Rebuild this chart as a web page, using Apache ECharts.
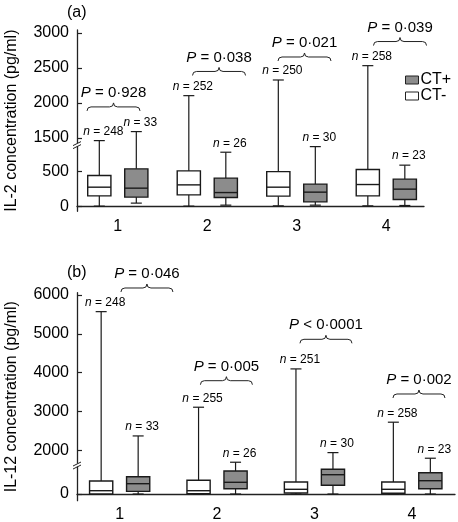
<!DOCTYPE html>
<html><head><meta charset="utf-8">
<script src="https://cdn.jsdelivr.net/npm/echarts@6/dist/echarts.min.js"></script>
<style>html,body{margin:0;padding:0;background:#fff}#c{width:458px;height:522px}</style>
</head><body><div id="c"></div>
<script>
// ---- data (pg/ml): [low whisker, Q1, median, Q3, high whisker] ----
const groups = [1, 2, 3, 4];
const il2CTneg = [[0,147,271,437,1462],[0,161,304,504,2105],[4,143,271,494,2329],[4,147,309,523,2534]];
const il2CTpos = [[43,129,257,533,1591],[14,123,194,400,771],[14,61,200,314,851],[9,94,243,386,586]];
const il12CTneg = [[0,0,85,334,5570],[0,10,85,352,3113],[0,26,121,308,4098],[0,18,121,308,2728]];
const il12CTpos = [[0,69,265,445,2375],[0,136,301,591,1699],[0,224,496,635,1946],[0,136,342,548,1802]];
const il2Nneg = [248, 252, 250, 258];
const il2Npos = [33, 26, 30, 23];
const il12Nneg = [248, 255, 251, 258];
const il12Npos = [33, 26, 30, 23];
const il2P = ['P = 0·928', 'P = 0·038', 'P = 0·021', 'P = 0·039'];
const il12P = ['P = 0·046', 'P = 0·005', 'P < 0·0001', 'P = 0·002'];
const il2BraceX = [0.952, 2.131, 3.086, 4.153];
const il2BraceY = [1944, 2451, 2658, 2879];
const il12BraceX = [1.280, 2.096, 3.118, 4.073];
const il12BraceY = [6178, 3795, 4859, 3453];
const il2Ticks = [0, 500, 1500, 2000, 2500, 3000];
const il12Ticks = [0, 2000, 3000, 4000, 5000, 6000];
const il2Break = [880, 1405];
const il12Break = [745, 1627];

const FONT = "'Liberation Sans', Arial, Helvetica, sans-serif";
function makeT(br) {
  return v => v <= br[0] ? v : (v >= br[1] ? v - (br[1] - br[0]) : br[0]);
}
const tA = makeT(il2Break), tB = makeT(il12Break);

function boxData(arr, ns, tf) {
  return arr.map((r, i) => [groups[i], ...r.map(tf), ns[i]]);
}

function boxRender(side, off, fill) {
  return function (params, api) {
    const x = api.value(0);
    const yy = i => api.coord([x, api.value(i)])[1];
    const cx = api.coord([x, api.value(1)])[0] + side * off;
    const yl = yy(1), y1 = yy(2), ym = yy(3), y3 = yy(4), yh = yy(5);
    const n = api.value(6);
    const hw = 11.6, cw = 5.5;
    const ls = { stroke: '#1a1a1a', lineWidth: 1.2 };
    return {
      type: 'group',
      children: [
        { type: 'line', shape: { x1: cx, y1: yl, x2: cx, y2: y1 }, style: ls },
        { type: 'line', shape: { x1: cx, y1: y3, x2: cx, y2: yh }, style: ls },
        { type: 'line', shape: { x1: cx - cw, y1: yl, x2: cx + cw, y2: yl }, style: ls },
        { type: 'line', shape: { x1: cx - cw, y1: yh, x2: cx + cw, y2: yh }, style: ls },
        { type: 'rect', shape: { x: cx - hw, y: y3, width: 2 * hw, height: y1 - y3 },
          style: { fill: fill, stroke: '#1a1a1a', lineWidth: 1.4 } },
        { type: 'line', shape: { x1: cx - hw, y1: ym, x2: cx + hw, y2: ym }, style: { stroke: '#1a1a1a', lineWidth: 1.4 } },
        { type: 'text', style: {
            text: '{i|n} = ' + n, x: cx + 4, y: yh - 9, align: 'center', verticalAlign: 'middle',
            fontSize: 12, fontFamily: FONT, fill: '#000',
            rich: { i: { fontStyle: 'italic', fontSize: 12, fontFamily: FONT } } } }
      ]
    };
  };
}

function braceRender(texts, hw) {
  return function (params, api) {
    const p = api.coord([api.value(0), api.value(1)]);
    const xc = p[0], y = p[1];
    const x1 = xc - hw, x2 = xc + hw, r = 4;
    const d = `M${x1},${y + r} Q${x1},${y} ${x1 + r},${y} L${xc - r},${y} Q${xc},${y} ${xc},${y - r} ` +
              `Q${xc},${y} ${xc + r},${y} L${x2 - r},${y} Q${x2},${y} ${x2},${y + r}`;
    const s = texts[api.value(2)];
    return {
      type: 'group',
      children: [
        { type: 'path', shape: { pathData: d }, style: { stroke: '#222', fill: null, lineWidth: 1 } },
        { type: 'text', style: {
            text: '{i|' + s.charAt(0) + '}' + s.slice(1), x: xc, y: y - 14, align: 'center', verticalAlign: 'middle',
            fontSize: 15, fontFamily: FONT, fill: '#000',
            rich: { i: { fontStyle: 'italic', fontSize: 15, fontFamily: FONT } } } }
      ]
    };
  };
}

function breakRender(params, api) {
  const p = api.coord([api.value(0), api.value(1)]);
  const x = p[0], y = p[1];
  const ls = { stroke: '#222', lineWidth: 1 };
  return {
    type: 'group',
    children: [
      { type: 'rect', shape: { x: x - 2, y: y - 1.5, width: 4, height: 3 }, style: { fill: '#fff' } },
      { type: 'line', shape: { x1: x - 4, y1: y + 1, x2: x + 4, y2: y - 3 }, style: ls },
      { type: 'line', shape: { x1: x - 4, y1: y + 4, x2: x + 4, y2: y }, style: ls }
    ]
  };
}

const xA = [0.544, 4.421], xB = [0.562, 4.443];
const ticksA = il2Ticks.map(tA), ticksB = il12Ticks.map(tB);

const axisLineStyle = { lineStyle: { color: '#222', width: 1.3 } };
function yAxis(gi, ticks, labels, min, max, name) {
  return {
    type: 'value', gridIndex: gi, min: min, max: max,
    axisLine: Object.assign({ show: true }, axisLineStyle),
    axisTick: { show: true, inside: true, length: 5, customValues: ticks, lineStyle: { color: '#222', width: 1.2 } },
    axisLabel: { customValues: ticks, fontSize: 16, fontFamily: FONT, color: '#000', margin: 8,
      formatter: v => { let k = 0, best = 1e9; ticks.forEach((t, i) => { if (Math.abs(t - v) < best) { best = Math.abs(t - v); k = i; } }); return String(labels[k]); } },
    splitLine: { show: false },
    name: name, nameLocation: 'middle', nameGap: 57,
    nameTextStyle: { fontSize: 16, fontFamily: FONT, color: '#000' }
  };
}
function xAxis(gi, rng, margin) {
  return {
    type: 'value', gridIndex: gi, min: rng[0], max: rng[1],
    axisLine: Object.assign({ show: true }, axisLineStyle),
    axisTick: { show: false },
    axisLabel: { customValues: groups, fontSize: 16, fontFamily: FONT, color: '#000', margin: margin, formatter: v => String(v) },
    splitLine: { show: false }
  };
}

const chart = echarts.init(document.getElementById('c'), null, { renderer: 'canvas' });
chart.setOption({
  animation: false,
  backgroundColor: '#fff',
  title: [
    { text: '(a)', left: 67, top: 5, padding: 0, textStyle: { fontSize: 16, fontWeight: 'normal', fontFamily: FONT, color: '#000' } },
    { text: '(b)', left: 67, top: 265, padding: 0, textStyle: { fontSize: 16, fontWeight: 'normal', fontFamily: FONT, color: '#000' } }
  ],
  legend: {
    data: ['CT+', 'CT-'], orient: 'vertical', left: 405, top: 72, padding: 0, itemGap: 0,
    icon: 'rect', itemWidth: 13, itemHeight: 8,
    itemStyle: { borderColor: '#222', borderWidth: 1 },
    textStyle: { fontSize: 16, fontFamily: FONT, color: '#000', lineHeight: 14, padding: [0, 0, 0, -3] },
    selectedMode: false
  },
  grid: [
    { left: 77, top: 30, width: 347, height: 181.3, containLabel: false, outerBoundsMode: 'none' },
    { left: 77, top: 292.7, width: 378, height: 208, containLabel: false, outerBoundsMode: 'none' }
  ],
  xAxis: [xAxis(0, xA, 7), xAxis(1, xB, 6)],
  yAxis: [
    yAxis(0, ticksA, il2Ticks, -74, 2519, 'IL-2 concentration (pg/ml)'),
    yAxis(1, ticksB, il12Ticks, -172, 5175, 'IL-12 concentration (pg/ml)')
  ],
  series: [
    { type: 'custom', name: 'CT-', xAxisIndex: 0, yAxisIndex: 0, clip: false,
      itemStyle: { color: '#ffffff', borderColor: '#222', borderWidth: 1 },
      encode: { x: 0, y: [1, 2, 3, 4, 5] }, data: boxData(il2CTneg, il2Nneg, tA), renderItem: boxRender(-1, 18.5, '#fff') },
    { type: 'custom', name: 'CT+', xAxisIndex: 0, yAxisIndex: 0, clip: false,
      itemStyle: { color: '#8c8c8c', borderColor: '#222', borderWidth: 1 },
      encode: { x: 0, y: [1, 2, 3, 4, 5] }, data: boxData(il2CTpos, il2Npos, tA), renderItem: boxRender(1, 18.5, '#8c8c8c') },
    { type: 'custom', name: 'CT-', xAxisIndex: 1, yAxisIndex: 1, clip: false,
      itemStyle: { color: '#ffffff', borderColor: '#222', borderWidth: 1 },
      encode: { x: 0, y: [1, 2, 3, 4, 5] }, data: boxData(il12CTneg, il12Nneg, tB), renderItem: boxRender(-1, 18.5, '#fff') },
    { type: 'custom', name: 'CT+', xAxisIndex: 1, yAxisIndex: 1, clip: false,
      itemStyle: { color: '#8c8c8c', borderColor: '#222', borderWidth: 1 },
      encode: { x: 0, y: [1, 2, 3, 4, 5] }, data: boxData(il12CTpos, il12Npos, tB), renderItem: boxRender(1, 18.5, '#8c8c8c') },
    { type: 'custom', name: 'pA', xAxisIndex: 0, yAxisIndex: 0, clip: false, encode: { x: 0, y: 1 },
      data: il2BraceX.map((x, i) => [x, tA(il2BraceY[i]), i]), renderItem: braceRender(il2P, 26.5) },
    { type: 'custom', name: 'pB', xAxisIndex: 1, yAxisIndex: 1, clip: false, encode: { x: 0, y: 1 },
      data: il12BraceX.map((x, i) => [x, tB(il12BraceY[i]), i]), renderItem: braceRender(il12P, 26) },
    { type: 'custom', name: 'brA', xAxisIndex: 0, yAxisIndex: 0, clip: false, encode: { x: 0, y: 1 },
      data: [[xA[0], il2Break[0]]], renderItem: breakRender },
    { type: 'custom', name: 'brB', xAxisIndex: 1, yAxisIndex: 1, clip: false, encode: { x: 0, y: 1 },
      data: [[xB[0], il12Break[0]]], renderItem: breakRender }
  ]
});
</script></body></html>
